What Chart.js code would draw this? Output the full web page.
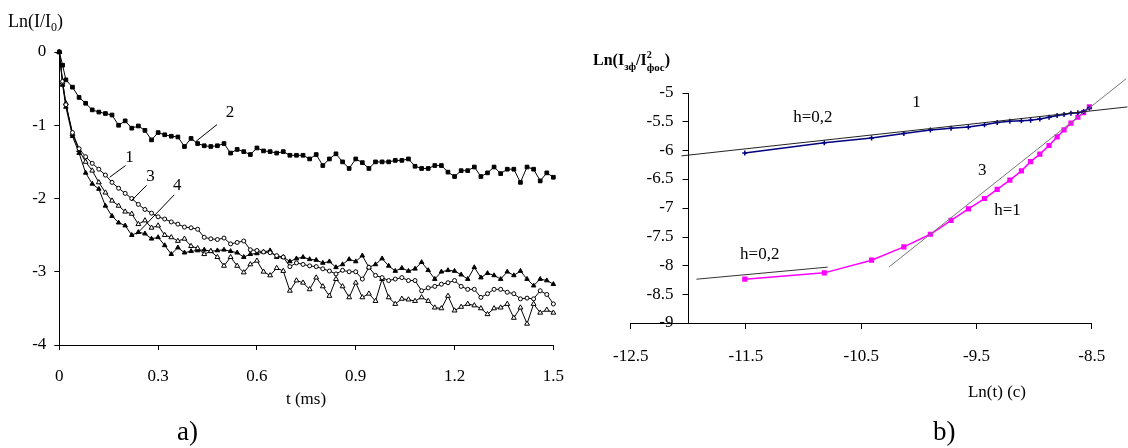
<!DOCTYPE html>
<html>
<head>
<meta charset="utf-8">
<script src="https://cdn.jsdelivr.net/npm/chart.js@4.4.1/dist/chart.umd.min.js"></script>
<style>
  body { margin: 0; background: #fff; width: 1128px; height: 448px; position: relative; overflow: hidden; font-family: "Liberation Serif", serif; }
  #wrapA { position: absolute; left: 0; top: 0; width: 580px; height: 448px; }
  #wrapB { position: absolute; left: 570px; top: 0; width: 558px; height: 448px; }
  .tag { position: absolute; font-size: 27px; color: #000; line-height: 31px; }
</style>
</head>
<body>
<div id="wrapA"><canvas id="chartA" width="580" height="448"></canvas></div>
<div id="wrapB"><canvas id="chartB" width="558" height="448"></canvas></div>
<div class="tag" style="left:177px; top:416px;">a)</div>
<div class="tag" style="left:933px; top:416px;">b)</div>

<script>
/* ============================================
   DATA  (panel a: Ln(I/I0) vs t, ms)
============================================ */

const times = [0, 0.01, 0.02, 0.04, 0.06, 0.08, 0.10, 0.12, 0.14, 0.16, 0.18, 0.20, 0.22, 0.24, 0.26, 0.28,
    0.30, 0.32, 0.34, 0.36, 0.38, 0.40, 0.42, 0.44, 0.46, 0.48, 0.50, 0.52, 0.54, 0.56, 0.58, 0.60, 0.62,
    0.64, 0.66, 0.68, 0.70, 0.72, 0.74, 0.76, 0.78, 0.80, 0.82, 0.84, 0.86, 0.88, 0.90, 0.92, 0.94, 0.96,
    0.98, 1.00, 1.02, 1.04, 1.06, 1.08, 1.10, 1.12, 1.14, 1.16, 1.18, 1.20, 1.22, 1.24, 1.26, 1.28, 1.30,
    1.32, 1.34, 1.36, 1.38, 1.40, 1.42, 1.44, 1.46, 1.48, 1.50];

// curve 1 - open circles
const curve1 = [0, -0.4, -0.72, -1.1, -1.32, -1.43, -1.52, -1.6, -1.68, -1.78, -1.86, -1.93, -2.0, -2.08,
    -2.15, -2.2, -2.25, -2.28, -2.32, -2.35, -2.39, -2.4, -2.42, -2.53, -2.55, -2.56, -2.54, -2.62, -2.6,
    -2.58, -2.7, -2.71, -2.73, -2.74, -2.78, -2.8, -2.93, -2.88, -2.9, -2.92, -2.93, -2.96, -2.99, -3.03,
    -2.98, -3.0, -3.0, -3.1, -2.94, -3.05, -3.08, -3.12, -3.1, -3.08, -3.12, -3.12, -3.26, -3.22, -3.2,
    -3.17, -3.15, -3.12, -3.2, -3.24, -3.24, -3.35, -3.3, -3.24, -3.24, -3.28, -3.3, -3.37, -3.36, -3.37,
    -3.26, -3.31, -3.44];

// curve 2 - filled squares
const curve2 = [0, -0.18, -0.38, -0.48, -0.62, -0.7, -0.79, -0.82, -0.84, -0.86, -1.0, -0.94, -1.04, -1.01,
    -1.07, -1.2, -1.1, -1.13, -1.15, -1.16, -1.29, -1.18, -1.25, -1.28, -1.29, -1.28, -1.25, -1.38, -1.33,
    -1.36, -1.4, -1.31, -1.35, -1.36, -1.38, -1.36, -1.41, -1.41, -1.41, -1.46, -1.40, -1.55, -1.46, -1.39,
    -1.5, -1.59, -1.46, -1.51, -1.59, -1.5, -1.5, -1.5, -1.48, -1.48, -1.46, -1.56, -1.59, -1.59, -1.55,
    -1.55, -1.64, -1.7, -1.62, -1.62, -1.57, -1.7, -1.65, -1.57, -1.66, -1.6, -1.6, -1.78, -1.57, -1.6,
    -1.76, -1.65, -1.71];

// curve 3 - open triangles
const curve3 = [0, -0.42, -0.7, -1.12, -1.34, -1.5, -1.62, -1.78, -1.92, -2.03, -2.1, -2.18, -2.21, -2.35,
    -2.3, -2.4, -2.37, -2.5, -2.53, -2.58, -2.55, -2.65, -2.68, -2.76, -2.72, -2.8, -2.92, -2.8, -2.92,
    -3.01, -2.9, -2.85, -3.0, -3.05, -2.95, -2.99, -3.26, -3.12, -3.15, -3.24, -3.08, -3.2, -3.33, -3.1,
    -3.2, -3.35, -3.15, -3.35, -3.3, -3.4, -3.1, -3.35, -3.44, -3.37, -3.38, -3.4, -3.35, -3.4, -3.49,
    -3.5, -3.33, -3.53, -3.48, -3.44, -3.46, -3.5, -3.58, -3.5, -3.49, -3.44, -3.63, -3.49, -3.71, -3.44,
    -3.56, -3.52, -3.56];

// curve 4 - filled triangles
const curve4 = [0, -0.45, -0.75, -1.15, -1.38, -1.65, -1.8, -1.87, -2.1, -2.24, -2.33, -2.37, -2.5, -2.46,
    -2.48, -2.55, -2.53, -2.64, -2.76, -2.67, -2.74, -2.72, -2.71, -2.7, -2.72, -2.71, -2.7, -2.72, -2.74,
    -2.8, -2.76, -2.75, -2.73, -2.71, -2.8, -2.8, -2.86, -2.82, -2.8, -2.83, -2.84, -2.88, -2.86, -2.94,
    -2.9, -2.83, -2.86, -2.78, -2.94, -2.9, -2.82, -2.92, -2.99, -2.95, -2.99, -2.96, -2.87, -2.98, -3.1,
    -3.0, -2.98, -2.99, -3.04, -3.1, -2.94, -3.08, -3.02, -3.05, -3.1, -3.0, -3.05, -2.99, -3.1, -3.19,
    -3.1, -3.12, -3.17];

const ticksAx = [0, 0.3, 0.6, 0.9, 1.2, 1.5];
const ticksAy = [0, -1, -2, -3, -4];

/* ============================================
   DATA  (panel b: Ln(Iзф/I²фос) vs Ln(t))
============================================ */

const lnTime = [-11.51, -10.82, -10.41, -10.13, -9.90, -9.72, -9.57, -9.43, -9.32, -9.21, -9.11, -9.03,
    -8.95, -8.87, -8.80, -8.74, -8.68, -8.62, -8.57, -8.52];
const curveB1 = [-6.05, -5.87, -5.79, -5.71, -5.65, -5.62, -5.60, -5.56, -5.52, -5.50, -5.49, -5.48,
    -5.46, -5.43, -5.40, -5.38, -5.36, -5.35, -5.33, -5.27];
const curveB3 = [-8.24, -8.13, -7.91, -7.68, -7.46, -7.22, -7.02, -6.84, -6.68, -6.52, -6.36, -6.20,
    -6.07, -5.92, -5.77, -5.65, -5.53, -5.43, -5.35, -5.25];

// straight fits (two end points each)
const fitTopX = [-12.06, -8.19];
const fitTopY = [-6.10, -5.25];
const fitLowX = [-11.93, -10.79];
const fitLowY = [-8.24, -8.03];
const fitSteepX = [-10.26, -8.20];
const fitSteepY = [-8.03, -4.76];

const ticksBx = [-12.5, -11.5, -10.5, -9.5, -8.5];
const ticksBy = [-5, -5.5, -6, -6.5, -7, -7.5, -8, -8.5, -9];
const crossB = -12;   // where the y axis of panel b crosses x

/* ============================================
   Helpers
============================================ */

const FONT = "'Liberation Serif', serif";
Chart.defaults.font.family = FONT;
Chart.defaults.color = "#000";

function pts(xs, ys) {
    return xs.map((x, i) => ({ x: x, y: ys[i] }));
}

function drawParts(ctx, parts, x, y) {
    let cx = x;
    parts.forEach(p => {
        ctx.font = p.font;
        ctx.fillText(p.text, cx, y + (p.dy || 0));
        if (!p.stay) cx += ctx.measureText(p.text).width;
    });
}

// annotation texts, pointer lines, inner y axis and rich titles
const textPlugin = {
    id: "panelText",
    afterDraw(chart, args, opts) {
        const ctx = chart.ctx;
        const xs = chart.scales.x, ys = chart.scales.y;
        ctx.save();
        ctx.fillStyle = "#000";
        ctx.strokeStyle = "#000";
        ctx.lineWidth = 1;
        (opts.pointers || []).forEach(p => {
            ctx.beginPath();
            ctx.moveTo(xs.getPixelForValue(p[0]), ys.getPixelForValue(p[1]));
            ctx.lineTo(xs.getPixelForValue(p[2]), ys.getPixelForValue(p[3]));
            ctx.stroke();
        });
        // y axis that sits inside the plot (line, ticks, labels)
        if (opts.yAxis) {
            const ya = opts.yAxis;
            const ax = Math.round(xs.getPixelForValue(ya.at)) + 0.5;
            const top = ys.getPixelForValue(ya.values[0]);
            const bot = ys.getPixelForValue(ya.values[ya.values.length - 1]);
            ctx.beginPath();
            ctx.moveTo(ax, Math.round(top));
            ctx.lineTo(ax, Math.round(bot) + 1);
            ya.values.forEach(v => {
                const py = Math.round(ys.getPixelForValue(v)) + 0.5;
                ctx.moveTo(ax, py);
                ctx.lineTo(ax - ya.tick, py);
            });
            ctx.stroke();
            ctx.textAlign = "right";
            ctx.textBaseline = "middle";
            ctx.font = ya.font;
            ya.values.forEach(v => {
                ctx.fillText(String(v), ax - ya.tick - ya.gap, ys.getPixelForValue(v));
            });
        }
        ctx.textAlign = "center";
        ctx.textBaseline = "middle";
        (opts.items || []).forEach(it => {
            ctx.font = it.font;
            ctx.fillText(it.text, xs.getPixelForValue(it.x), ys.getPixelForValue(it.y));
        });
        (opts.centered || []).forEach(it => {
            ctx.font = it.font;
            ctx.fillText(it.text, it.px, it.py);
        });
        ctx.textAlign = "left";
        ctx.textBaseline = "alphabetic";
        (opts.rich || []).forEach(r => drawParts(ctx, r.parts, r.px, r.py));
        ctx.restore();
    }
};

function axisCommon(tickLen, pad) {
    return {
        type: "linear",
        grid: { display: true, drawOnChartArea: false, drawTicks: true, tickLength: tickLen, color: "#000", lineWidth: 1 },
        border: { display: true, color: "#000", width: 1 },
        ticks: { padding: pad, color: "#000", font: { size: 17 }, autoSkip: false, maxRotation: 0, callback: v => String(v) }
    };
}

/* ============================================
   Panel a
============================================ */

const axA = axisCommon(5, 16);
axA.position = "bottom";
axA.min = 0; axA.max = 1.5;
axA.afterBuildTicks = s => { s.ticks = ticksAx.map(v => ({ value: v })); };
axA.afterFit = s => { s.height = 103; };

const ayA = axisCommon(5, 8);
ayA.position = "left";
ayA.min = -4; ayA.max = 0;
ayA.afterBuildTicks = s => { s.ticks = ticksAy.map(v => ({ value: v })); };
ayA.afterFit = s => { s.width = 59.3; };

function seriesA(values, style, fill, radius) {
    return {
        data: pts(times, values),
        borderColor: "#000",
        borderWidth: 1,
        pointStyle: style,
        pointRadius: radius,
        pointBackgroundColor: fill,
        pointBorderColor: "#000",
        pointBorderWidth: 1,
        tension: 0,
        clip: false
    };
}

new Chart(document.getElementById("chartA"), {
    type: "line",
    data: {
        datasets: [
            seriesA(curve2, "rect", "#000", 2.6),
            seriesA(curve1, "circle", "#fff", 2),
            seriesA(curve3, "triangle", "#fff", 2.8),
            seriesA(curve4, "triangle", "#000", 2.6)
        ]
    },
    options: {
        responsive: false,
        animation: false,
        layout: { padding: { top: 52, left: 0, right: 24, bottom: 0 } },
        scales: { x: axA, y: ayA },
        plugins: {
            legend: { display: false },
            tooltip: { enabled: false },
            panelText: {
                items: [
                    { text: "2", x: 0.518, y: -0.82, font: "17px " + FONT },
                    { text: "1", x: 0.213, y: -1.44, font: "17px " + FONT },
                    { text: "3", x: 0.277, y: -1.70, font: "17px " + FONT },
                    { text: "4", x: 0.358, y: -1.82, font: "17px " + FONT }
                ],
                pointers: [
                    [0.479, -0.99, 0.415, -1.22],
                    [0.201, -1.55, 0.153, -1.71],
                    [0.265, -1.82, 0.219, -2.03],
                    [0.349, -1.95, 0.234, -2.49]
                ],
                centered: [
                    { text: "t (ms)", px: 306, py: 400, font: "17px " + FONT }
                ],
                rich: [
                    { px: 8, py: 27, parts: [
                        { text: "Ln(I/I", font: "18px " + FONT },
                        { text: "0", font: "12px " + FONT, dy: 4 },
                        { text: ")", font: "18px " + FONT }
                    ] }
                ]
            }
        }
    },
    plugins: [textPlugin]
});

/* ============================================
   Panel b
============================================ */

const axB = axisCommon(6, 17);
axB.position = "bottom";
axB.min = -12.5; axB.max = -8.5;
axB.afterBuildTicks = s => { s.ticks = ticksBx.map(v => ({ value: v })); };
axB.afterFit = s => { s.height = 125; };

// the y scale only maps values; its line, ticks and labels are drawn by the plugin
const ayB = {
    type: "linear",
    position: { x: crossB },
    min: -9, max: -5,
    grid: { display: false },
    border: { display: false },
    ticks: { display: false }
};

function fitLine(xs, ys, color) {
    return {
        data: pts(xs, ys),
        borderColor: color,
        borderWidth: 1,
        pointRadius: 0,
        tension: 0,
        clip: false
    };
}

new Chart(document.getElementById("chartB"), {
    type: "line",
    data: {
        datasets: [
            fitLine(fitTopX, fitTopY, "#222"),
            fitLine(fitLowX, fitLowY, "#333"),
            fitLine(fitSteepX, fitSteepY, "#777"),
            {
                data: pts(lnTime, curveB1),
                borderColor: "#000080",
                borderWidth: 1.5,
                pointStyle: "cross",
                pointRadius: 2.5,
                pointBorderColor: "#000080",
                pointBorderWidth: 1.5,
                tension: 0,
                clip: false
            },
            {
                data: pts(lnTime, curveB3),
                borderColor: "#ff00ff",
                borderWidth: 1.5,
                pointStyle: "rect",
                pointRadius: 2.6,
                pointBackgroundColor: "#ff00ff",
                pointBorderColor: "#ff00ff",
                tension: 0,
                clip: false
            }
        ]
    },
    options: {
        responsive: false,
        animation: false,
        layout: { padding: { top: 92.5, left: 60.7, right: 36.3, bottom: 0 } },
        scales: { x: axB, y: ayB },
        plugins: {
            legend: { display: false },
            tooltip: { enabled: false },
            panelText: {
                items: [
                    { text: "h=0,2", x: -10.92, y: -5.44, font: "17px " + FONT },
                    { text: "1", x: -10.02, y: -5.18, font: "17px " + FONT },
                    { text: "3", x: -9.45, y: -6.35, font: "17px " + FONT },
                    { text: "h=1", x: -9.23, y: -7.04, font: "17px " + FONT },
                    { text: "h=0,2", x: -11.38, y: -7.82, font: "17px " + FONT }
                ],
                yAxis: { values: ticksBy, at: crossB, tick: 6, gap: 9, font: "17px " + FONT },
                centered: [
                    { text: "Ln(t) (c)", px: 427, py: 393, font: "17px " + FONT }
                ],
                rich: [
                    { px: 23, py: 65, parts: [
                        { text: "Ln(I", font: "bold 16px " + FONT },
                        { text: "зф", font: "bold 11px " + FONT, dy: 5 },
                        { text: "/I", font: "bold 16px " + FONT },
                        { text: "2", font: "bold 10px " + FONT, dy: -7, stay: true },
                        { text: "фос", font: "bold 11px " + FONT, dy: 6 },
                        { text: ")", font: "bold 16px " + FONT }
                    ] }
                ]
            }
        }
    },
    plugins: [textPlugin]
});
</script>
</body>
</html>
